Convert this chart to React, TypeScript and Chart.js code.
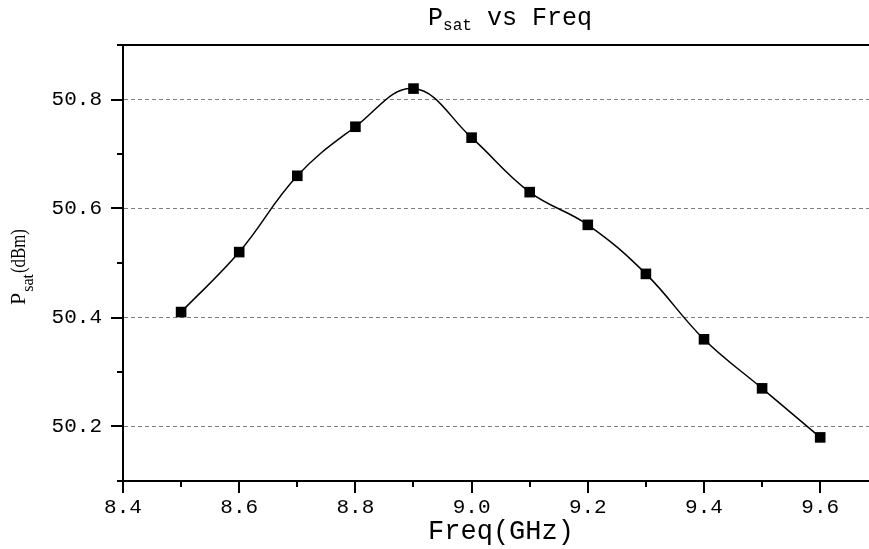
import React, { useEffect, useRef } from "react";
import { Chart, registerables } from "chart.js";

Chart.register(...registerables);

const freqs = [8.5, 8.6, 8.7, 8.8, 8.9, 9.0, 9.1, 9.2, 9.3, 9.4, 9.5, 9.6];
const psat = [50.41, 50.52, 50.66, 50.75, 50.82, 50.73, 50.63, 50.57, 50.48, 50.36, 50.27, 50.18];
const xMajorTicks = [8.4, 8.6, 8.8, 9.0, 9.2, 9.4, 9.6];
const xMinorTicks = [8.5, 8.7, 8.9, 9.1, 9.3, 9.5];
const yMajorTicks = [50.2, 50.4, 50.6, 50.8];
const yMinorTicks = [50.1, 50.3, 50.5, 50.7, 50.9];

const MONO = "'Liberation Mono', monospace";
const SERIF = "'Liberation Serif', serif";

const decorPlugin = {
  id: "decor",
  afterDraw(chart: any) {
    const { ctx, chartArea } = chart;
    const xs = chart.scales.x;
    const ys = chart.scales.y;
    ctx.save();
    ctx.strokeStyle = "#000";
    ctx.lineWidth = 2;
    // top border
    ctx.beginPath();
    ctx.moveTo(chartArea.left, chartArea.top);
    ctx.lineTo(chartArea.right, chartArea.top);
    ctx.stroke();
    // x ticks
    const drawXT = (v: number, len: number) => {
      const px = Math.round(xs.getPixelForValue(v));
      ctx.beginPath();
      ctx.moveTo(px, chartArea.bottom);
      ctx.lineTo(px, chartArea.bottom + len);
      ctx.stroke();
    };
    xMajorTicks.forEach((v) => drawXT(v, 12));
    xMinorTicks.forEach((v) => drawXT(v, 6));
    const drawYT = (v: number, len: number) => {
      const py = Math.round(ys.getPixelForValue(v));
      ctx.beginPath();
      ctx.moveTo(chartArea.left, py);
      ctx.lineTo(chartArea.left - len, py);
      ctx.stroke();
    };
    yMajorTicks.forEach((v) => drawYT(v, 12));
    yMinorTicks.forEach((v) => drawYT(v, 6));

    ctx.fillStyle = "#000";
    ctx.textBaseline = "alphabetic";
    ctx.textAlign = "left";
    // title
    const bigT = `25px ${MONO}`;
    const subT = `16px ${MONO}`;
    ctx.font = bigT;
    const wP = ctx.measureText("P").width;
    const wRest = ctx.measureText(" vs Freq").width;
    ctx.font = subT;
    const wSub = ctx.measureText("sat").width;
    const total = wP + wSub + wRest;
    let tx = 510 - total / 2;
    const tBase = 25;
    ctx.font = bigT;
    ctx.fillText("P", tx, tBase);
    tx += wP;
    ctx.font = subT;
    ctx.fillText("sat", tx, tBase + 5);
    tx += wSub;
    ctx.font = bigT;
    ctx.fillText(" vs Freq", tx, tBase);

    // x title
    ctx.font = `27px ${MONO}`;
    ctx.textAlign = "center";
    ctx.fillText("Freq(GHz)", 501, 539);

    // y title rotated
    ctx.save();
    ctx.translate(25, 305);
    ctx.rotate(-Math.PI / 2);
    ctx.textAlign = "left";
    const yBig = `22px ${SERIF}`;
    const ySub = `16px ${SERIF}`;
    let yx = 0;
    ctx.font = yBig;
    ctx.fillText("P", yx, 0);
    yx += ctx.measureText("P").width + 1;
    ctx.font = ySub;
    ctx.fillText("sat", yx, 8);
    yx += ctx.measureText("sat").width + 1;
    ctx.font = `21px ${SERIF}`;
    ctx.translate(yx, 0);
    ctx.scale(0.8, 1);
    ctx.fillText("(dBm)", 0, 0);
    ctx.restore();

    ctx.restore();
  },
};

export default function App() {
  const ref = useRef<HTMLCanvasElement | null>(null);
  useEffect(() => {
    if (!ref.current) return;
    const chart = new Chart(ref.current, {
      type: "line",
      data: {
        datasets: [
          {
            data: freqs.map((f, i) => ({ x: f, y: psat[i] })),
            borderColor: "#000",
            backgroundColor: "#000",
            borderWidth: 1.5,
            tension: 0.4,
            pointStyle: "rect",
            pointRadius: 7.5,
            pointHoverRadius: 7.5,
            pointBorderWidth: 0,
          },
        ],
      },
      options: {
        animation: false,
        responsive: false,
        devicePixelRatio: 1,
        layout: { autoPadding: false, padding: { top: 45, left: 0, right: 0, bottom: 0 } },
        plugins: {
          legend: { display: false },
          title: { display: false },
          tooltip: { enabled: false },
        },
        scales: {
          x: {
            type: "linear",
            min: 8.4,
            max: 9.684,
            afterBuildTicks: (s: any) => {
              s.ticks = xMajorTicks.map((v) => ({ value: v }));
            },
            afterFit: (s: any) => {
              s.height = 68;
              s.paddingLeft = 0;
              s.paddingRight = 0;
            },
            grid: { drawOnChartArea: false, drawTicks: false },
            border: { display: true, color: "#000", width: 2 },
            ticks: {
              padding: 14,
              color: "#000",
              font: { family: MONO, size: 21 },
              maxRotation: 0,
              callback: (v: any) => Number(v).toFixed(1),
            },
          },
          y: {
            type: "linear",
            min: 50.1,
            max: 50.9,
            afterBuildTicks: (s: any) => {
              s.ticks = yMajorTicks.map((v) => ({ value: v }));
            },
            afterFit: (s: any) => {
              s.width = 123;
              s.paddingTop = 0;
              s.paddingBottom = 0;
            },
            grid: {
              drawOnChartArea: true,
              drawTicks: false,
              color: "#808080",
              lineWidth: 1,
            },
            border: { display: true, color: "#000", width: 2, dash: [4, 3] },
            ticks: {
              padding: 21,
              color: "#000",
              font: { family: MONO, size: 21 },
              callback: (v: any) => Number(v).toFixed(1),
            },
          },
        },
      },
      plugins: [decorPlugin],
    } as any);
    return () => chart.destroy();
  }, []);
  return (
    <div style={{ position: "absolute", left: 0, top: 0, width: 869, height: 549, background: "#fff" }}>
      <canvas ref={ref} width={869} height={549} />
    </div>
  );
}
